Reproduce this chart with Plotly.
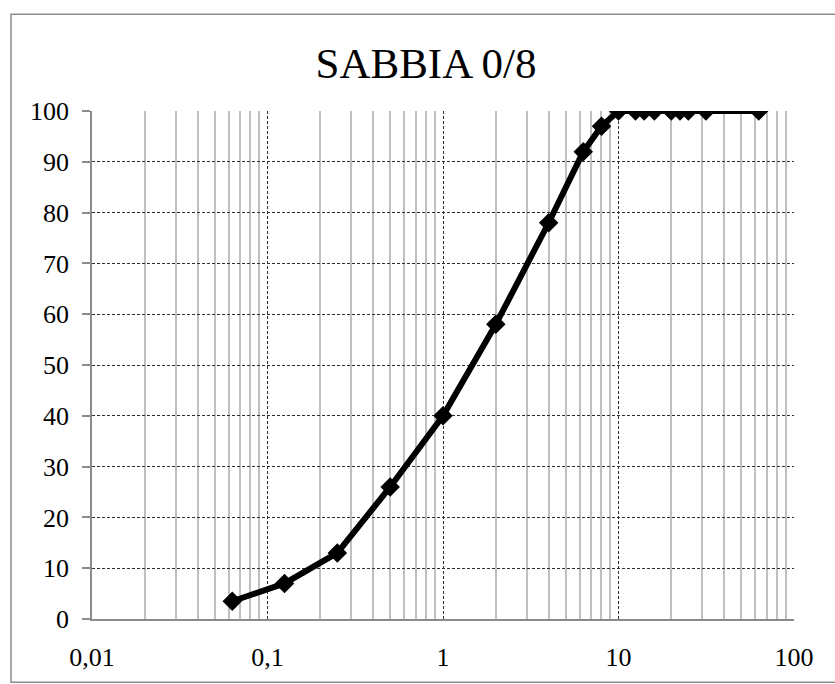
import plotly.graph_objects as go

# Data: sieve size (mm) vs cumulative passing (%)
sieve_mm = [0.063, 0.125, 0.25, 0.5, 1, 2, 4, 6.3, 8, 10, 12.5, 14, 16, 20, 22.4, 25, 31.5, 63]
passing = [3.5, 7, 13, 26, 40, 58, 78, 92, 97, 100, 100, 100, 100, 100, 100, 100, 100, 100]

x_tickvals = [0.01, 0.1, 1, 10, 100]
x_ticktext = ["0,01", "0,1", "1", "10", "100"]
minor_vals = [m * d for d in [0.01, 0.1, 1, 10] for m in range(2, 10)]

W, H = 835, 684
ML, MR, MT, MB = 92, 41, 111, 59
FONT = "Liberation Serif"

fig = go.Figure()
fig.add_trace(go.Scatter(
    x=sieve_mm, y=passing, mode="lines+markers",
    line=dict(color="black", width=6),
    marker=dict(symbol="diamond", size=15, color="black"),
    showlegend=False,
))

pw = W - ML - MR
ph = H - MT - MB
fig.add_shape(type="rect", xref="paper", yref="paper",
              x0=(11 - ML) / pw, x1=(W + 5 - ML) / pw,
              y0=-(H + 5 - MT - ph) / ph, y1=1 + (MT - 13) / ph,
              line=dict(color="#8c8c8c", width=1.5), layer="below")

fig.update_layout(
    width=W, height=H,
    margin=dict(l=ML, r=MR, t=MT, b=MB),
    paper_bgcolor="white", plot_bgcolor="white",
    font=dict(family=FONT, color="black", size=26),
    title=dict(text="SABBIA 0/8", x=426 / W, xref="container", xanchor="center",
               y=1 - 63 / H, yanchor="middle",
               font=dict(family=FONT, size=43, color="black")),
)
fig.update_xaxes(
    type="log", range=[-2, 2],
    tickvals=x_tickvals, ticktext=x_ticktext,
    showgrid=True, gridcolor="#303030", griddash="3px,2px", gridwidth=1,
    minor=dict(tickvals=minor_vals, showgrid=True, gridcolor="#c0c0c0",
               gridwidth=1.5, griddash="solid", ticks=""),
    showline=True, linecolor="#8c8c8c", linewidth=1.5,
    ticks="", ticklabelstandoff=14, zeroline=False,
    tickfont=dict(family=FONT, size=26, color="black"),
)
fig.update_yaxes(
    range=[0, 100], dtick=10,
    showgrid=True, gridcolor="#303030", griddash="3px,2px", gridwidth=1,
    showline=True, linecolor="#8c8c8c", linewidth=1.5,
    ticks="outside", ticklen=8, tickcolor="#8c8c8c", tickwidth=1.5,
    ticklabelstandoff=8, zeroline=False,
    tickfont=dict(family=FONT, size=26, color="black"),
)

fig.write_html("out.html")
